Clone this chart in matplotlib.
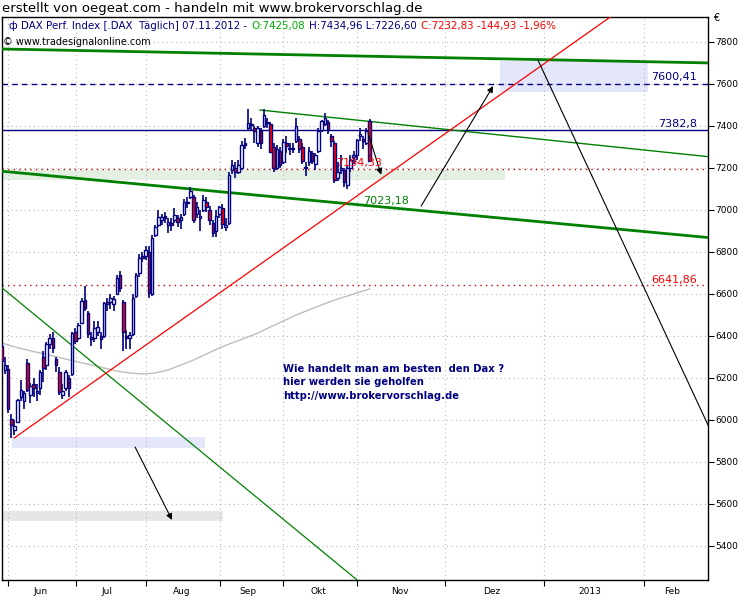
import matplotlib
matplotlib.use("Agg")
import matplotlib.pyplot as plt
from matplotlib.offsetbox import TextArea, HPacker, AnchoredOffsetbox
import numpy as np

plt.rcParams['font.family'] = ['DejaVu Sans']

##########################################
# Kursdaten DAX (Tageskerzen 30.05.2012 - 07.11.2012)
##########################################
dates = ["30.05", "31.05",
         "01.06", "04.06", "05.06", "06.06", "07.06", "08.06", "11.06", "12.06", "13.06", "14.06", "15.06",
         "18.06", "19.06", "20.06", "21.06", "22.06", "25.06", "26.06", "27.06", "28.06", "29.06",
         "02.07", "03.07", "04.07", "05.07", "06.07", "09.07", "10.07", "11.07", "12.07", "13.07", "16.07",
         "17.07", "18.07", "19.07", "20.07", "23.07", "24.07", "25.07", "26.07", "27.07", "30.07", "31.07",
         "01.08", "02.08", "03.08", "06.08", "07.08", "08.08", "09.08", "10.08", "13.08", "14.08", "15.08",
         "16.08", "17.08", "20.08", "21.08", "22.08", "23.08", "24.08", "27.08", "28.08", "29.08", "30.08", "31.08",
         "03.09", "04.09", "05.09", "06.09", "07.09", "10.09", "11.09", "12.09", "13.09", "14.09", "17.09",
         "18.09", "19.09", "20.09", "21.09", "24.09", "25.09", "26.09", "27.09", "28.09",
         "01.10", "02.10", "03.10", "04.10", "05.10", "08.10", "09.10", "10.10", "11.10", "12.10", "15.10",
         "16.10", "17.10", "18.10", "19.10", "22.10", "23.10", "24.10", "25.10", "26.10", "29.10", "30.10", "31.10",
         "01.11", "02.11", "05.11", "06.11", "07.11"]

opens = [6350, 6240,
         6245, 6005, 5950, 5990, 6110, 6090, 6270, 6120, 6170, 6130, 6150,
         6300, 6260, 6360, 6390, 6290, 6230, 6120, 6150, 6200, 6220,
         6420, 6390, 6460, 6570, 6510, 6395, 6390, 6420, 6400, 6400, 6560,
         6560, 6550, 6600, 6690, 6560, 6400, 6390, 6410, 6590, 6700, 6780,
         6780, 6800, 6600, 6880, 6930, 6950, 6970, 6930, 6940, 6950, 6960,
         6950, 6980, 7040, 7060, 7060, 6980, 6960, 7000, 7040, 7000, 6940, 6900,
         6980, 7010, 6920, 6940, 7190, 7200, 7180, 7200, 7320, 7390, 7410,
         7390, 7320, 7380, 7400, 7420, 7410, 7300, 7200, 7280,
         7230, 7320, 7290, 7290, 7330, 7340, 7300, 7200, 7230, 7270, 7220,
         7280, 7380, 7410, 7420, 7350, 7320, 7150, 7190, 7190, 7120, 7200, 7250,
         7260, 7350, 7340, 7320, 7425.08]

highs = [6365, 6300,
         6262, 6030, 6000, 6100, 6190, 6140, 6290, 6175, 6200, 6170, 6240,
         6330, 6370, 6410, 6420, 6300, 6250, 6170, 6240, 6215, 6420,
         6440, 6460, 6580, 6640, 6520, 6420, 6470, 6470, 6420, 6560, 6580,
         6600, 6590, 6690, 6710, 6570, 6430, 6420, 6600, 6700, 6790, 6800,
         6830, 6830, 6880, 6930, 7000, 6980, 6990, 6960, 6960, 7010, 6975,
         6980, 7050, 7060, 7110, 7070, 7040, 7000, 7070, 7060, 7020, 6950, 7000,
         7020, 7030, 6960, 7180, 7240, 7230, 7240, 7330, 7345, 7480, 7440,
         7400, 7400, 7390, 7480, 7440, 7420, 7320, 7310, 7300,
         7340, 7350, 7320, 7320, 7440, 7350, 7320, 7230, 7300, 7280, 7270,
         7390, 7430, 7460, 7430, 7360, 7330, 7230, 7260, 7200, 7210, 7260, 7280,
         7340, 7390, 7350, 7390, 7434.96]

lows = [6265, 6220,
        6035, 5914, 5930, 5985, 6090, 6050, 6135, 6080, 6110, 6090, 6120,
        6180, 6240, 6340, 6320, 6230, 6120, 6100, 6140, 6110, 6210,
        6360, 6380, 6455, 6520, 6390, 6350, 6370, 6400, 6340, 6390, 6520,
        6530, 6520, 6595, 6610, 6330, 6340, 6340, 6400, 6580, 6680, 6750,
        6760, 6580, 6590, 6870, 6920, 6930, 6940, 6890, 6900, 6940, 6920,
        6910, 6970, 7010, 7050, 6940, 6960, 6900, 6990, 6990, 6930, 6870, 6870,
        6960, 6910, 6900, 6930, 7170, 7150, 7170, 7190, 7290, 7380, 7380,
        7320, 7300, 7290, 7390, 7390, 7270, 7180, 7190, 7200,
        7220, 7270, 7260, 7270, 7320, 7270, 7220, 7160, 7210, 7220, 7190,
        7270, 7370, 7400, 7360, 7300, 7130, 7140, 7170, 7110, 7100, 7180, 7220,
        7240, 7330, 7290, 7310, 7226.60]

closes = [6281, 6264,
          6050, 5978, 5969, 6094, 6144, 6130, 6141, 6162, 6152, 6138, 6229,
          6248, 6363, 6392, 6343, 6263, 6133, 6136, 6228, 6150, 6416,
          6378, 6452, 6566, 6535, 6410, 6387, 6438, 6444, 6388, 6557, 6553,
          6579, 6574, 6678, 6630, 6419, 6390, 6405, 6582, 6690, 6773, 6772,
          6808, 6606, 6865, 6918, 6967, 6966, 6964, 6945, 6929, 6974, 6945,
          6966, 7040, 7033, 7089, 6954, 7016, 6971, 7047, 7013, 6951, 6892, 6970,
          7014, 6932, 6930, 7168, 7214, 7180, 7213, 7311, 7310, 7412, 7403,
          7378, 7389, 7320, 7451, 7413, 7276, 7200, 7290, 7216,
          7326, 7305, 7291, 7292, 7398, 7291, 7234, 7205, 7281, 7232, 7262,
          7376, 7423, 7437, 7380, 7328, 7142, 7182, 7199, 7132, 7202, 7238, 7260,
          7335, 7364, 7327, 7377, 7232.83]

ma_bars = [-2, 2, 6, 10, 14, 18, 22, 26, 30, 34, 38, 42, 46, 50, 54,
           58, 62, 66, 70, 74, 78, 82, 86, 90, 94, 98, 102, 106, 110, 113]
ma_vals = [6367, 6348, 6333, 6319, 6305, 6290, 6276, 6262, 6248, 6233, 6224, 6219, 6224, 6238, 6262,
           6286, 6314, 6343, 6367, 6390, 6414, 6443, 6471, 6500, 6524, 6548, 6571, 6590, 6610, 6624]

# Monatsachse (in Kerzen ab 01.06.2012)
month_ticks = [0, 21.1, 43.1, 66.25, 85.9, 109.1, 136.6, 167.5, 198.75]
month_label_pos = [10, 30.9, 54.4, 75, 96.9, 122.5, 151.25, 181.9, 207.5]
month_labels = ['Jun', 'Jul', 'Aug', 'Sep', 'Okt', 'Nov', 'Dez', '2013', 'Feb']
price_ticks = list(range(5400, 7801, 200))

# horizontale Marken
level_resist = 7600.41
level_high = 7382.8
level_support = 7194.33
level_low = 6641.86
level_channel = 7023.18

# Trendlinien (Kerze, Kurs)
green_top = ([-3, 220], [7767, 7700])
green_bottom = ([-3, 220], [7186, 6867])
green_thin_top = ([78.75, 220], [7476, 7252])
green_thin_down = ([-3, 115], [6643, 5164])
red_up = ([1.9, 200], [5914, 8046])
black_down = ([165.6, 222], [7714, 5870])

# Pfeile (start -> ziel)
arrows = [((129.1, 7019), (151.6, 7590)),
          ((112.5, 7367), (116.6, 7168)),
          ((39.7, 5871), (51.25, 5524))]

# Zonen (x0, x1, y0, y1)
zone_top = (153.75, 200, 7562, 7710)
zone_low = (1.25, 61.6, 5867, 5919)
zone_gray = (-3, 67.2, 5519, 5567)
zone_green = (-3, 155.3, 7143, 7190)

navy = '#000080'
red = '#FF0000'
green = '#008000'

##########################################
# Zeichnen
##########################################
fig = plt.figure(figsize=(7.5, 6), dpi=100)
ax = fig.add_axes([2 / 750, 20 / 600, 706 / 750, 563 / 600])
ax.set_xlim(-1.9, 218.75)
ax.set_ylim(5238, 7919)

for (x0, x1, y0, y1), col in [(zone_top, '#E4E6FA'), (zone_low, '#E4E6FA'),
                              (zone_gray, '#E6E6E6'), (zone_green, '#E3F0E3')]:
    ax.fill_between([x0, x1], y0, y1, color=col, lw=0, zorder=1)

ax.set_xticks(month_ticks)
ax.set_xticklabels([])
ax.set_xticks(month_label_pos, minor=True)
ax.set_xticklabels(month_labels, minor=True)
ax.set_yticks(price_ticks)
ax.yaxis.tick_right()
ax.tick_params(axis='y', direction='out', length=4, width=0.8, labelsize=6.5, pad=1)
ax.tick_params(axis='x', which='major', direction='out', length=4, width=0.8)
ax.tick_params(axis='x', which='minor', length=0, labelsize=6.5, pad=5)
ax.grid(True, which='major', color='#B8B8B8', linestyle=(0, (1, 3)), lw=0.8, zorder=1.5)
for s in ax.spines.values():
    s.set_color('black')
    s.set_linewidth(1)

# horizontale Linien
ax.axhline(level_resist, color=navy, lw=1, ls=(0, (4, 3)), zorder=2)
ax.axhline(level_high, color=navy, lw=1, zorder=2)
ax.axhline(level_support, color='#CC0000', lw=1, ls=(0, (1, 3)), zorder=2)
ax.axhline(level_low, color='#CC0000', lw=1, ls=(0, (1, 3)), zorder=2)

# gleitender Durchschnitt
ax.plot(ma_bars, ma_vals, color='#BEBEBE', lw=1, zorder=2)

# Kerzen
xs = np.arange(len(closes)) - 2
o = np.array(opens)
c = np.array(closes)
body_col = np.where(c >= o, 'white', red)
ax.vlines(xs, lows, highs, color=navy, lw=1.2, zorder=4)
ax.bar(xs, np.maximum(np.abs(c - o), 6), bottom=np.minimum(o, c), width=0.8,
       color=body_col, edgecolor=navy, linewidth=1.0, zorder=5)

# Trendlinien
ax.plot(*green_top, color=green, lw=2.0, zorder=3)
ax.plot(*green_bottom, color=green, lw=2.0, zorder=3)
ax.plot(*green_thin_top, color=green, lw=1, zorder=3)
ax.plot(*green_thin_down, color=green, lw=0.9, zorder=3)
ax.plot(*red_up, color=red, lw=0.9, zorder=6)
ax.plot(*black_down, color='black', lw=0.8, zorder=6)

for start, end in arrows:
    ax.annotate('', xy=end, xytext=start,
                arrowprops=dict(arrowstyle='-|>', color='black', lw=0.8, mutation_scale=9,
                                shrinkA=0, shrinkB=0), zorder=7)

# Beschriftungen der Marken
ax.text(215.3, 7633, '7600,41', color=navy, fontsize=8, ha='right', va='center', zorder=8)
ax.text(215.3, 7410, '7382,8', color=navy, fontsize=8, ha='right', va='center', zorder=8)
ax.text(215.3, 6667, '6641,86', color=red, fontsize=8, ha='right', va='center', zorder=8)
ax.text(102.5, 7226, '7194,33', color=red, fontsize=8, ha='left', va='center', zorder=8)
ax.text(110.9, 7043, '7023,18', color=green, fontsize=8, ha='left', va='center', zorder=8)

ax.text(85.9, 6243, 'Wie handelt man am besten  den Dax ?', color=navy, fontsize=7.2,
        fontweight='bold', va='center', zorder=8)
ax.text(85.9, 6181, 'hier werden sie geholfen', color=navy, fontsize=7.2,
        fontweight='bold', va='center', zorder=8)
ax.text(85.9, 6114, 'http://www.brokervorschlag.de', color=navy, fontsize=7.2,
        fontweight='bold', va='center', zorder=8)

# Kopfzeile im Chart
parts = [('ф', navy), ('DAX Perf. Index [.DAX  Täglich] 07.11.2012 -', navy), ('O:7425,08', '#00B000'),
         ('H:7434,96 L:7226,60', navy), ('C:7232,83 -144,93 -1,96%', red)]
boxes = [TextArea(t, textprops=dict(color=col, size=7.4)) for t, col in parts]
header = AnchoredOffsetbox(loc='upper left', child=HPacker(children=boxes, sep=3, pad=0, align='baseline'),
                           frameon=False, bbox_to_anchor=(0.009, 0.993), bbox_transform=ax.transAxes,
                           borderpad=0, pad=0)
header.set_zorder(9)
ax.add_artist(header)
ax.text(0.002, 0.955, '© www.tradesignalonline.com', transform=ax.transAxes, fontsize=7,
        color='black', va='center', zorder=9)

fig.text(0.003, 1 - 8.5 / 600, 'erstellt von oegeat.com - handeln mit www.brokervorschlag.de',
         fontsize=9.5, va='center', ha='left')
fig.text(713 / 750, 1 - 18 / 600, '€', fontsize=7, va='center', ha='left')

fig.savefig('out.png', dpi=100)
